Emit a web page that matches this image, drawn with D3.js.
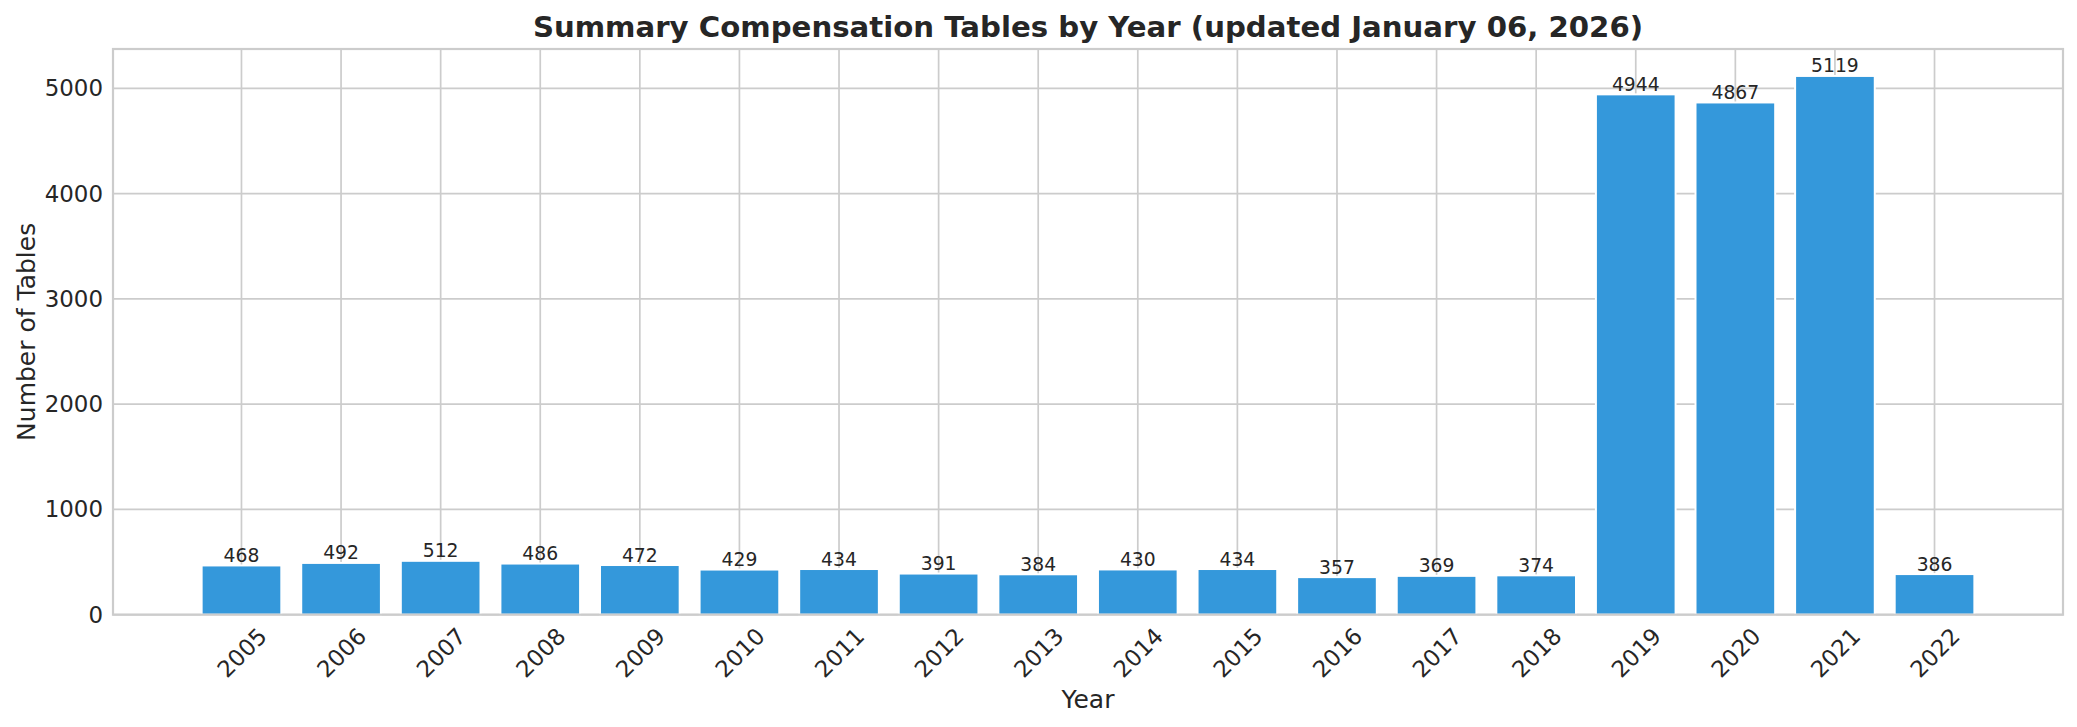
<!DOCTYPE html>
<html>
<head>
<meta charset="utf-8">
<script src="https://cdn.jsdelivr.net/npm/d3@7"></script>
<style>
  html, body { margin: 0; padding: 0; background: #ffffff; }
  svg { display: block; font-family: "DejaVu Sans", sans-serif; }
</style>
</head>
<body>
<svg id="chart" width="2077" height="727"></svg>
<script>
const years = [2005, 2006, 2007, 2008, 2009, 2010, 2011, 2012, 2013, 2014, 2015, 2016, 2017, 2018, 2019, 2020, 2021, 2022];
const counts = [468, 492, 512, 486, 472, 429, 434, 391, 384, 430, 434, 357, 369, 374, 4944, 4867, 5119, 386];
const yTicks = [0, 1000, 2000, 3000, 4000, 5000];
const titleText = "Summary Compensation Tables by Year (updated January 06, 2026)";
const xLabelText = "Year";
const yLabelText = "Number of Tables";

(function () {
const svg = d3.select("#chart");
const pL = 113, pR = 2063, pT = 49, pB = 614.7;
const textColor = "#262626";
const gridColor = "#cccccc";
const barColor = "#3498db";

const barW = 0.8;
const xMargin = (years.length - 1 + barW) * 0.05;
const x = d3.scaleLinear()
  .domain([years[0] - barW / 2 - xMargin, years[years.length - 1] + barW / 2 + xMargin])
  .range([pL, pR]);
const y = d3.scaleLinear()
  .domain([0, d3.max(counts) * 1.05])
  .range([pB, pT]);

// grid
const grid = svg.append("g");
grid.selectAll("line.h").data(yTicks).join("line")
  .attr("class", "h")
  .attr("x1", pL).attr("x2", pR)
  .attr("y1", d => y(d)).attr("y2", d => y(d))
  .attr("stroke", gridColor).attr("stroke-width", 1.7);
grid.selectAll("line.v").data(years).join("line")
  .attr("class", "v")
  .attr("x1", d => x(d)).attr("x2", d => x(d))
  .attr("y1", pT).attr("y2", pB)
  .attr("stroke", gridColor).attr("stroke-width", 1.7);

// bars
const data = years.map((yr, i) => ({ yr, v: counts[i] }));
const bw = x(barW) - x(0);
svg.append("g").selectAll("rect").data(data).join("rect")
  .attr("x", d => x(d.yr) - bw / 2)
  .attr("width", bw)
  .attr("y", d => y(d.v))
  .attr("height", d => y(0) - y(d.v))
  .attr("fill", barColor)
  .attr("stroke", "#ffffff")
  .attr("stroke-width", 2);

// value labels
svg.append("g").selectAll("text").data(data).join("text")
  .attr("x", d => x(d.yr))
  .attr("y", d => y(d.v) - 3.5)
  .attr("text-anchor", "middle")
  .attr("font-size", "18.75px")
  .attr("fill", textColor)
  .text(d => d.v);

// spines
svg.append("rect")
  .attr("x", pL).attr("y", pT)
  .attr("width", pR - pL).attr("height", pB - pT)
  .attr("fill", "none").attr("stroke", gridColor).attr("stroke-width", 2.2);

// y axis ticks
const yAxis = d3.axisLeft(y).tickValues(yTicks).tickSize(0).tickPadding(10).tickFormat(d3.format("d"));
const ya = svg.append("g").attr("transform", `translate(${pL},0)`).call(yAxis);
ya.select(".domain").remove();
ya.selectAll("text").attr("font-size", "22.9px").attr("fill", textColor)
  .attr("font-family", "DejaVu Sans");

// x axis ticks (rotated)
const xAxis = d3.axisBottom(x).tickValues(years).tickSize(0).tickFormat(d3.format("d"));
const xa = svg.append("g").attr("transform", `translate(0,${pB})`).call(xAxis);
xa.select(".domain").remove();
xa.selectAll("text")
  .attr("font-size", "22.9px").attr("fill", textColor)
  .attr("font-family", "DejaVu Sans")
  .attr("text-anchor", "middle")
  .attr("y", 0).attr("dy", "0.35em")
  .attr("transform", "translate(0,38) rotate(-45)");

// axis labels
svg.append("text")
  .attr("x", (pL + pR) / 2).attr("y", 708)
  .attr("text-anchor", "middle")
  .attr("font-size", "25px").attr("fill", textColor)
  .text(xLabelText);
svg.append("text")
  .attr("transform", `translate(35,${(pT + pB) / 2}) rotate(-90)`)
  .attr("text-anchor", "middle")
  .attr("font-size", "25px").attr("fill", textColor)
  .text(yLabelText);

// title
svg.append("text")
  .attr("x", (pL + pR) / 2).attr("y", 37)
  .attr("text-anchor", "middle")
  .attr("font-size", "29.2px").attr("font-weight", "bold").attr("fill", textColor)
  .text(titleText);
})();
</script>
</body>
</html>
